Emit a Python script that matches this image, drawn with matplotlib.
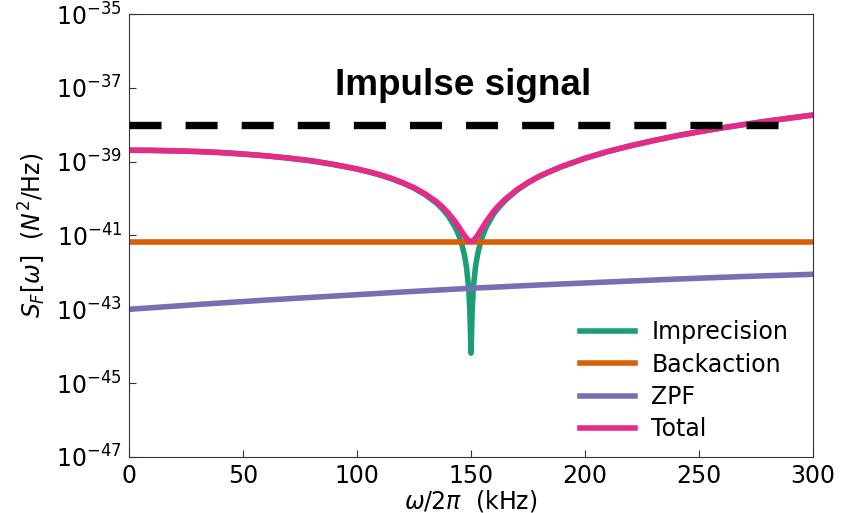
import numpy as np
import matplotlib
matplotlib.use("Agg")
import matplotlib.pyplot as plt

# frequency grid (kHz) for the imprecision / total curves
freq = [0, 10, 20, 30, 40, 50, 60, 70, 80, 90, 100, 105, 110, 115, 120, 125, 130, 135, 138,
        140, 143, 144, 145, 146, 147, 148, 149, 149.5, 150, 150.5, 151, 152, 153, 154, 155,
        156, 157, 160, 162, 165, 170, 175, 180, 185, 190, 200, 210, 220, 230, 240, 250,
        260, 270, 280, 290, 300]

imprecision = [2.04e-39, 2.02e-39, 1.96e-39, 1.88e-39, 1.77e-39, 1.61e-39, 1.44e-39, 1.25e-39,
               1.05e-39, 8.3e-40, 6.3e-40, 5.3e-40, 4.37e-40, 3.47e-40, 2.64e-40, 1.91e-40,
               1.26e-40, 7.4e-41, 4.8e-41, 3.39e-41, 1.70e-41, 1.26e-41, 8.8e-42, 5.6e-42,
               3.2e-42, 1.44e-42, 3.6e-43, 9.1e-44, 6.5e-45, 9.2e-44, 3.7e-43, 1.48e-42,
               3.3e-42, 6.0e-42, 9.4e-42, 1.35e-41, 1.86e-41, 3.9e-41, 5.6e-41, 8.9e-41,
               1.65e-40, 2.67e-40, 3.98e-40, 5.5e-40, 7.4e-40, 1.23e-39, 1.88e-39, 2.7e-39,
               3.72e-39, 5.0e-39, 6.45e-39, 8.2e-39, 1.02e-38, 1.26e-38, 1.52e-38, 1.83e-38]

total = [2.04e-39, 2.02e-39, 1.96e-39, 1.88e-39, 1.77e-39, 1.61e-39, 1.44e-39, 1.25e-39,
         1.06e-39, 8.37e-40, 6.37e-40, 5.37e-40, 4.44e-40, 3.54e-40, 2.71e-40, 1.98e-40,
         1.33e-40, 8.1e-41, 5.5e-41, 4.09e-41, 2.4e-41, 1.96e-41, 1.58e-41, 1.26e-41,
         1.02e-41, 8.4e-42, 7.3e-42, 7.06e-42, 7.0e-42, 7.06e-42, 7.3e-42, 8.5e-42,
         1.03e-41, 1.3e-41, 1.64e-41, 2.05e-41, 2.56e-41, 4.6e-41, 6.3e-41, 9.6e-41,
         1.72e-40, 2.74e-40, 4.05e-40, 5.57e-40, 7.5e-40, 1.24e-39, 1.89e-39, 2.7e-39,
         3.72e-39, 5.0e-39, 6.45e-39, 8.2e-39, 1.02e-38, 1.26e-38, 1.52e-38, 1.83e-38]

backaction_freq = [0, 300]
backaction = [6.6e-42, 6.6e-42]

zpf_freq = [0, 30, 60, 90, 120, 150, 180, 210, 240, 270, 300]
zpf = [1.0e-43, 1.35e-43, 1.78e-43, 2.29e-43, 2.95e-43, 3.72e-43, 4.57e-43, 5.5e-43,
       6.6e-43, 7.76e-43, 8.9e-43]

impulse_freq = [0, 285]
impulse_level = [1e-38, 1e-38]

fig = plt.figure(figsize=(8.46, 5.13), dpi=100)
ax = fig.add_axes([0.1525, 0.1092, 0.8085, 0.8635])

lw = 4
ax.plot(freq, imprecision, color="#1b9e77", lw=lw, label="Imprecision")
ax.plot(backaction_freq, backaction, color="#d95f02", lw=lw, label="Backaction")
ax.plot(zpf_freq, zpf, color="#7570b3", lw=lw, label="ZPF")
ax.plot(freq, total, color="#e7298a", lw=lw, label="Total")
ax.plot(impulse_freq, impulse_level, color="black", lw=5.3,
        linestyle=(0, (4.35, 3.27)), zorder=5)

ax.text(146.5, 6.4e-38, "Impulse signal", ha="center", va="baseline",
        fontsize=26.6, fontweight="bold", family="Liberation Sans")

ax.set_yscale("log")
ax.set_xlim(0, 300)
ax.set_ylim(1e-47, 1e-35)
ax.set_xticks([0, 50, 100, 150, 200, 250, 300])
ax.set_yticks([10.0 ** e for e in range(-47, -34, 2)])
ax.minorticks_off()
ax.tick_params(direction="in", labelsize=17, length=5, pad=5, color="#333333")
for s in ax.spines.values():
    s.set_color("#333333")

ax.set_xlabel(r"$\omega/2\pi$  (kHz)", fontsize=17, labelpad=0)
ax.set_ylabel(r"$S_F[\omega]$  ($N^2$/Hz)", fontsize=17, labelpad=6)

ax.legend(loc="lower right", frameon=False, fontsize=17, handlelength=2.33,
          handletextpad=0.7, labelspacing=0.35, borderpad=0, borderaxespad=0,
          bbox_to_anchor=(0.9635, 0.036))

fig.savefig("out.png", dpi=100)
